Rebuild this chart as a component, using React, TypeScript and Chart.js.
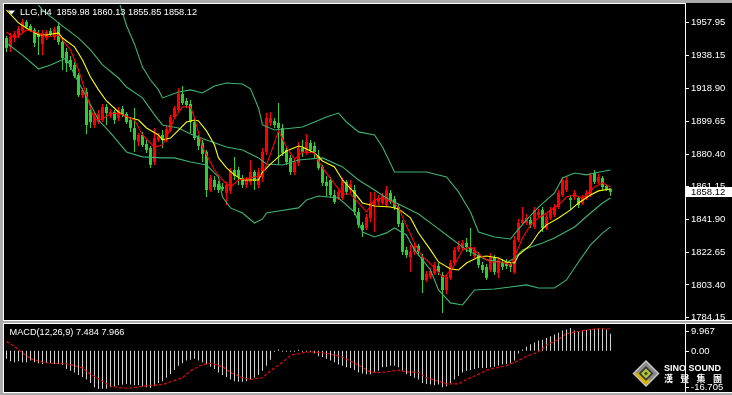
import React, { useEffect, useRef } from 'react';
import { Chart, registerables } from 'chart.js';

Chart.register(...registerables);

// ---------- data ----------
const symbolLabel = 'LLG,H4';
const ohlcLabel = '1859.98 1860.13 1855.85 1858.12';
const macdLabel = 'MACD(12,26,9) 7.484 7.966';
const lastPrice = 1858.12;

const priceTicks = [1784.15, 1803.4, 1822.65, 1841.9, 1861.15, 1880.4, 1899.65, 1918.9, 1938.15, 1957.95];
const macdTicks = [9.967, 0, -16.705];

const openP = [
  1948.6, 1943.4, 1949.2, 1950.4, 1952.8, 1958.1, 1955.7, 1953.4, 1951.6, 1945.1,
  1948.6, 1952.8, 1949.2, 1955.7, 1946.3, 1940.4, 1935.7, 1932.8, 1926.9, 1915.1,
  1916.9, 1906.3, 1897.5, 1899.2, 1900.4, 1908.1, 1902.8, 1905.1, 1901.6, 1906.9,
  1904.0, 1900.4, 1895.7, 1887.5, 1891.6, 1886.3, 1884.0, 1875.7, 1888.7, 1891.6,
  1888.7, 1894.5, 1902.2, 1906.3, 1915.7, 1911.6, 1909.8, 1899.2, 1890.4, 1886.9,
  1881.6, 1859.2, 1865.1, 1862.8, 1861.0, 1857.5, 1858.7, 1871.0, 1871.0, 1866.3,
  1862.2, 1864.0, 1869.8, 1862.2, 1866.9, 1881.6, 1898.7, 1899.8, 1898.7, 1895.7,
  1882.8, 1878.1, 1869.8, 1875.1, 1884.0, 1881.6, 1886.9, 1885.1, 1879.2, 1872.8,
  1864.0, 1865.1, 1856.3, 1854.5, 1854.5, 1864.0, 1859.2, 1859.2, 1846.3, 1838.7,
  1836.9, 1842.8, 1850.4, 1852.2, 1851.6, 1850.4, 1857.5, 1854.0, 1849.2, 1839.8,
  1824.0, 1819.8, 1822.8, 1826.3, 1819.8, 1806.3, 1808.1, 1810.4, 1814.5, 1809.2,
  1800.4, 1807.5, 1816.3, 1824.0, 1825.1, 1828.1, 1825.7, 1820.4, 1821.0, 1815.1,
  1814.0, 1812.2, 1819.8, 1810.4, 1816.9, 1816.3, 1815.7, 1811.0, 1829.8, 1839.8,
  1839.8, 1841.6, 1837.5, 1844.5, 1847.5, 1836.9, 1842.8, 1844.5, 1849.2, 1856.3,
  1859.2, 1854.5, 1855.1, 1854.5, 1851.6, 1854.5, 1856.3, 1869.2, 1864.0, 1866.3,
  1861.6, 1859.98,
];
const highP = [
  1949.8, 1951.6, 1952.8, 1955.7, 1959.8, 1959.2, 1956.9, 1954.5, 1953.4, 1953.4,
  1953.4, 1954.5, 1955.1, 1958.1, 1948.6, 1942.8, 1938.1, 1934.5, 1928.1, 1919.2,
  1919.2, 1909.2, 1905.1, 1906.3, 1909.8, 1909.8, 1906.9, 1906.3, 1908.1, 1908.7,
  1905.1, 1902.2, 1907.5, 1892.8, 1893.4, 1888.7, 1885.1, 1895.7, 1892.8, 1894.5,
  1896.9, 1903.4, 1908.7, 1919.2, 1920.4, 1913.4, 1912.2, 1901.6, 1891.6, 1888.7,
  1882.8, 1868.1, 1867.5, 1864.5, 1863.4, 1864.0, 1872.2, 1878.7, 1872.8, 1868.1,
  1866.9, 1876.9, 1871.0, 1872.2, 1884.0, 1904.5, 1905.1, 1901.6, 1910.4, 1898.1,
  1884.5, 1879.8, 1878.1, 1887.5, 1888.7, 1892.2, 1888.7, 1887.5, 1882.8, 1874.0,
  1867.5, 1866.9, 1859.2, 1859.2, 1866.3, 1865.1, 1865.1, 1862.2, 1848.7, 1840.4,
  1845.1, 1858.1, 1858.1, 1856.3, 1857.5, 1861.6, 1859.2, 1855.7, 1851.0, 1841.6,
  1825.7, 1826.9, 1828.1, 1827.5, 1821.6, 1811.6, 1813.4, 1816.9, 1816.3, 1811.0,
  1809.2, 1818.1, 1825.7, 1829.2, 1829.8, 1831.0, 1836.9, 1825.7, 1822.8, 1816.9,
  1815.7, 1822.2, 1821.0, 1819.2, 1818.7, 1818.7, 1816.9, 1832.2, 1842.2, 1849.2,
  1845.1, 1843.4, 1849.2, 1848.1, 1849.2, 1845.1, 1849.2, 1851.0, 1859.2, 1866.3,
  1866.9, 1856.3, 1859.2, 1855.7, 1856.3, 1859.2, 1869.2, 1871.0, 1868.7, 1867.5,
  1862.8, 1860.13,
];
const lowP = [
  1940.4, 1940.4, 1946.3, 1948.6, 1951.6, 1953.9, 1952.2, 1943.4, 1938.6, 1938.6,
  1947.5, 1949.8, 1947.5, 1944.5, 1929.8, 1928.6, 1929.8, 1925.1, 1913.9, 1913.4,
  1892.2, 1895.7, 1895.7, 1898.1, 1899.2, 1897.5, 1901.6, 1898.1, 1899.8, 1902.2,
  1898.1, 1893.4, 1881.6, 1885.1, 1884.5, 1881.0, 1872.2, 1874.0, 1887.5, 1884.0,
  1887.5, 1893.4, 1901.0, 1905.1, 1909.2, 1907.5, 1892.8, 1888.7, 1882.8, 1875.7,
  1855.1, 1858.1, 1859.2, 1857.5, 1858.7, 1850.4, 1856.9, 1865.1, 1862.2, 1860.4,
  1860.4, 1862.2, 1859.2, 1860.4, 1864.0, 1879.8, 1896.9, 1895.7, 1874.0, 1879.2,
  1874.0, 1868.1, 1868.1, 1873.4, 1878.7, 1879.8, 1881.0, 1878.1, 1871.0, 1861.6,
  1855.1, 1854.5, 1851.0, 1853.4, 1853.4, 1856.3, 1857.5, 1844.5, 1836.9, 1831.6,
  1835.7, 1840.4, 1834.5, 1850.4, 1850.4, 1849.2, 1851.0, 1847.5, 1837.5, 1821.0,
  1819.2, 1811.0, 1821.0, 1820.4, 1798.7, 1805.1, 1806.9, 1809.2, 1809.2, 1786.9,
  1798.1, 1806.3, 1815.1, 1822.8, 1824.0, 1822.8, 1820.4, 1819.2, 1813.4, 1810.4,
  1806.3, 1811.0, 1809.2, 1807.5, 1812.2, 1812.8, 1811.0, 1809.8, 1828.7, 1838.7,
  1838.7, 1836.9, 1836.3, 1843.4, 1834.5, 1835.7, 1841.6, 1843.4, 1848.1, 1855.1,
  1858.1, 1847.5, 1853.4, 1848.7, 1850.4, 1853.4, 1855.1, 1862.8, 1862.8, 1859.2,
  1858.7, 1855.85,
];
const closeP = [
  1942.8, 1949.2, 1951.0, 1953.9, 1958.1, 1955.1, 1953.4, 1945.7, 1949.2, 1951.6,
  1952.2, 1951.0, 1953.9, 1946.3, 1936.9, 1933.9, 1931.6, 1926.3, 1915.1, 1918.1,
  1897.5, 1899.2, 1902.2, 1904.0, 1908.1, 1904.5, 1905.1, 1900.4, 1906.3, 1903.4,
  1899.2, 1895.7, 1888.7, 1891.6, 1885.7, 1882.8, 1874.0, 1889.8, 1891.0, 1888.7,
  1895.1, 1902.2, 1907.5, 1915.7, 1910.4, 1909.2, 1899.2, 1889.8, 1885.1, 1880.4,
  1859.2, 1866.3, 1861.0, 1859.2, 1859.8, 1862.2, 1870.4, 1867.5, 1866.9, 1862.2,
  1865.1, 1869.8, 1864.5, 1869.8, 1881.6, 1901.6, 1901.6, 1897.5, 1895.7, 1881.0,
  1875.7, 1869.8, 1875.7, 1884.0, 1881.6, 1887.5, 1882.8, 1881.6, 1872.2, 1863.4,
  1861.6, 1856.3, 1852.2, 1858.1, 1865.1, 1858.1, 1862.8, 1846.3, 1838.7, 1835.7,
  1843.4, 1851.6, 1853.4, 1854.5, 1855.7, 1859.2, 1852.2, 1848.7, 1839.2, 1822.8,
  1821.0, 1822.8, 1826.3, 1822.8, 1806.3, 1809.8, 1811.6, 1815.1, 1811.0, 1800.4,
  1808.1, 1816.3, 1824.0, 1826.3, 1828.1, 1825.7, 1822.8, 1824.0, 1815.1, 1812.2,
  1807.5, 1819.8, 1811.0, 1818.1, 1814.0, 1814.5, 1814.0, 1829.8, 1839.8, 1841.6,
  1842.8, 1838.7, 1847.5, 1846.3, 1836.9, 1843.4, 1847.5, 1849.2, 1857.5, 1865.1,
  1865.1, 1853.4, 1857.5, 1850.4, 1854.5, 1857.5, 1868.1, 1864.0, 1866.9, 1861.0,
  1859.8, 1858.12,
];

// indicator lines: [bar index, value]
const maYellow = [
  [0, 1965.1], [3, 1957.5], [5, 1954.5], [8, 1950.4], [10, 1950.4], [13, 1951.6], [14, 1948.6],
  [17, 1943.4], [19, 1935.7], [21, 1925.7], [23, 1918.1], [25, 1911.6], [28, 1905.1], [30, 1902.2],
  [33, 1900.4], [35, 1895.7], [38, 1891.6], [39, 1888.7], [41, 1889.8], [43, 1894.5], [45, 1899.2],
  [47, 1900.4], [48, 1899.8], [50, 1894.0], [52, 1885.7], [53, 1878.1], [55, 1872.2], [57, 1868.1],
  [59, 1865.1], [63, 1865.1], [64, 1869.8], [66, 1874.5], [68, 1878.7], [70, 1882.2], [73, 1885.1],
  [74, 1884.5], [77, 1881.0], [79, 1876.3], [82, 1872.8], [84, 1865.1], [87, 1857.5], [89, 1851.6],
  [92, 1849.8], [96, 1849.2], [98, 1848.1], [101, 1842.8], [103, 1833.9], [106, 1824.0], [108, 1816.9],
  [111, 1812.8], [113, 1812.2], [115, 1816.3], [118, 1819.8], [120, 1820.4], [123, 1819.2], [125, 1816.9],
  [127, 1816.3], [128, 1821.0], [131, 1826.9], [133, 1833.9], [135, 1838.7], [138, 1842.8], [141, 1847.5],
  [143, 1851.6], [146, 1856.3], [148, 1858.7], [151, 1859.8],
];
const maRed = [
  [0, 1952.2], [2, 1948.6], [4, 1951.6], [5, 1953.4], [8, 1951.6], [10, 1949.2], [13, 1950.4],
  [14, 1947.5], [16, 1941.6], [18, 1929.8], [20, 1915.1], [22, 1900.4], [24, 1901.0], [26, 1904.0],
  [28, 1904.5], [32, 1900.4], [34, 1891.6], [37, 1884.5], [39, 1885.7], [40, 1890.4], [42, 1901.6],
  [44, 1908.1], [46, 1908.1], [47, 1901.6], [49, 1884.5], [52, 1871.0], [54, 1865.1], [56, 1861.0],
  [58, 1865.1], [61, 1866.3], [64, 1868.1], [66, 1880.4], [68, 1894.0], [70, 1884.5], [72, 1877.5],
  [74, 1881.6], [77, 1881.0], [79, 1872.2], [82, 1862.8], [84, 1856.9], [86, 1856.9], [88, 1851.6],
  [90, 1846.3], [92, 1853.4], [94, 1854.5], [96, 1852.8], [98, 1849.2], [99, 1843.4], [102, 1828.1],
  [104, 1819.8], [105, 1818.1], [107, 1813.4], [109, 1808.1], [110, 1809.2], [112, 1815.1], [114, 1824.0],
  [116, 1825.7], [119, 1819.8], [121, 1816.9], [124, 1816.9], [126, 1815.1], [127, 1819.8], [129, 1831.0],
  [131, 1838.7], [133, 1842.8], [135, 1845.7], [138, 1850.4], [140, 1855.1], [142, 1856.3], [144, 1854.5],
  [145, 1856.3], [147, 1861.0], [149, 1863.4], [150, 1862.2], [151, 1861.0],
];
const bandUpper = [
  [26, 1990.0], [28, 1971.0], [30, 1956.0], [32, 1945.0], [34, 1931.5], [36, 1923.9], [38, 1918.1],
  [39, 1913.4], [43, 1916.9], [46, 1918.1], [49, 1916.3], [52, 1920.4], [55, 1922.2], [59, 1921.6],
  [61, 1918.7], [63, 1907.5], [64, 1897.5], [67, 1894.5], [74, 1896.3], [77, 1899.2], [80, 1902.2],
  [83, 1904.5], [85, 1899.2], [88, 1893.4], [92, 1891.6], [94, 1884.5], [97, 1869.8], [100, 1869.8],
  [105, 1869.8], [110, 1866.9], [113, 1858.1], [116, 1846.3], [118, 1834.5], [122, 1831.6], [126, 1830.4],
  [127, 1833.4], [130, 1841.6], [133, 1849.2], [137, 1857.5], [139, 1866.3], [142, 1869.2], [145, 1868.1],
  [147, 1869.2], [151, 1871.0],
];
const bandMiddle = [
  [6, 1974.0], [9, 1965.1], [13, 1957.5], [18, 1948.6], [21, 1941.6], [24, 1932.8], [28, 1925.1],
  [30, 1919.8], [34, 1913.4], [37, 1903.4], [39, 1897.5], [43, 1895.7], [46, 1892.2], [50, 1888.7],
  [55, 1884.5], [59, 1882.8], [63, 1878.1], [65, 1874.5], [69, 1873.9], [73, 1876.9], [79, 1878.1],
  [84, 1872.8], [88, 1865.1], [92, 1859.2], [95, 1854.5], [99, 1849.8], [103, 1845.1], [107, 1838.1],
  [111, 1831.0], [115, 1824.0], [120, 1818.1], [125, 1816.3], [127, 1819.2], [129, 1824.0], [134, 1828.1],
  [137, 1831.0], [142, 1837.5], [146, 1845.7], [149, 1851.6], [151, 1854.5],
];
const bandLower = [
  [0, 1945.7], [4, 1938.6], [8, 1930.4], [11, 1932.8], [15, 1936.9], [17, 1926.9], [20, 1913.9],
  [23, 1900.4], [26, 1892.8], [30, 1881.6], [34, 1878.7], [39, 1878.1], [42, 1878.1], [46, 1875.7],
  [50, 1873.9], [53, 1866.9], [54, 1855.1], [56, 1848.7], [59, 1845.7], [62, 1839.8], [64, 1842.2],
  [65, 1845.7], [68, 1846.9], [73, 1848.7], [75, 1853.4], [78, 1855.7], [83, 1854.5], [87, 1846.3],
  [89, 1834.5], [92, 1831.6], [95, 1834.0], [97, 1836.9], [100, 1832.8], [102, 1824.0], [106, 1812.2],
  [108, 1800.4], [111, 1792.8], [114, 1791.6], [117, 1800.4], [122, 1801.0], [126, 1802.2], [130, 1803.4],
  [133, 1801.6], [137, 1801.6], [140, 1806.3], [143, 1816.9], [146, 1826.9], [149, 1833.9], [151, 1837.5],
];

const macdMain = [
  -3.47, -4.52, -4.98, -4.52, -4.98, -4.98, -4.22, -4.98, -5.43, -5.73,
  -5.43, -5.43, -5.73, -5.73, -6.18, -7.99, -8.75, -9.5, -10.56, -11.46,
  -12.52, -14.03, -15.99, -16.705, -16.59, -16.59, -15.99, -15.54, -15.08, -14.78,
  -14.48, -14.78, -15.08, -15.08, -15.54, -15.99, -16.29, -15.54, -14.03, -13.27,
  -11.76, -10.26, -8.45, -6.49, -5.43, -4.22, -3.92, -3.47, -4.22, -4.98,
  -5.73, -6.94, -7.99, -9.5, -10.56, -11.46, -12.52, -13.27, -13.57, -13.57,
  -13.27, -12.52, -11.76, -10.56, -8.75, -6.49, -3.92, -0.45, 0.6, -0.1,
  -0.45, -0.45, -0.1, 0.3, -0.15, -0.1, -0.45, -1.21, -2.41, -2.71,
  -3.47, -4.22, -4.98, -6.03, -6.49, -7.24, -7.54, -8.45, -9.5, -9.95,
  -10.26, -10.26, -9.5, -8.75, -7.24, -6.94, -6.49, -6.49, -7.24, -8.75,
  -10.26, -11.01, -11.76, -12.52, -14.03, -14.48, -14.78, -15.08, -14.78, -15.99,
  -15.54, -14.03, -12.52, -11.01, -9.5, -8.75, -8.45, -7.99, -7.54, -7.54,
  -7.54, -7.24, -6.94, -6.49, -6.03, -5.73, -5.43, -4.22, -1.21, 0.6,
  1.81, 2.87, 3.62, 4.52, 4.83, 5.58, 6.33, 7.09, 7.84, 8.9,
  9.35, 9.967, 8.9, 8.6, 8.9, 9.05, 9.35, 9.65, 9.8, 9.8,
  9.35, 7.484,
];
const macdSignal = [
  [0, 4.07], [2, 1.81], [4, -0.9], [6, -3.47], [9, -4.98], [11, -5.43], [14, -5.43], [16, -6.03],
  [19, -7.54], [21, -10.26], [24, -13.27], [26, -15.54], [29, -16.29], [31, -16.29], [34, -15.54],
  [36, -15.08], [39, -14.78], [41, -13.57], [44, -11.76], [46, -8.75], [49, -6.03], [51, -5.43],
  [54, -6.94], [56, -9.5], [59, -11.76], [61, -12.52], [64, -11.76], [66, -8.75], [69, -4.98],
  [71, -1.96], [74, -0.9], [76, -0.45], [79, -0.9], [81, -1.51], [84, -2.71], [86, -4.52], [89, -7.2],
  [91, -9.3], [93, -9.5], [95, -9.2], [98, -8.45], [100, -9.2], [103, -9.5], [105, -11.76], [108, -13.27],
  [110, -14.48], [113, -14.48], [115, -12.52], [118, -10.26], [120, -8.45], [123, -7.24], [125, -6.49],
  [128, -4.22], [130, -2.41], [133, -0.45], [135, 2.56], [138, 4.98], [140, 7.54], [143, 8.45],
  [145, 9.05], [148, 9.65], [151, 9.6],
];

// ---------- view / style ----------
const X_MIN = -0.625;
const X_MAX = 169.625;
const P_MIN = 1782.75;
const P_MAX = 1968.05;
const M_MIN = -16.705;
const M_MAX = 9.967;

const GRAY = '#ababab';
const UP = '#ff0000';
const DOWN = '#32cd32';
const BAND = '#3cb371';
const FONT = '"Liberation Sans", Arial, sans-serif';

const pts = (arr: number[][]) => arr.map(([x, y]) => ({ x, y }));

const mainFrame = {
  id: 'mainFrame',
  beforeDraw(chart: any) {
    const ctx = chart.ctx;
    ctx.save();
    ctx.fillStyle = GRAY;
    ctx.fillRect(0, 0, 732, 321);
    ctx.fillStyle = '#000';
    ctx.fillRect(3, 3, 729, 318);
    ctx.fillStyle = '#fff';
    ctx.fillRect(3, 3, 683, 1);
    ctx.fillRect(3, 3, 1, 318);
    ctx.fillRect(3, 320, 729, 1);
    ctx.fillRect(685, 3, 1, 318);
    ctx.restore();
  },
  afterDraw(chart: any) {
    const ctx = chart.ctx;
    const ys = chart.scales.y;
    ctx.save();
    ctx.fillStyle = '#fff';
    ctx.beginPath();
    ctx.moveTo(8, 10.5);
    ctx.lineTo(15, 10.5);
    ctx.lineTo(11.5, 14.5);
    ctx.closePath();
    ctx.fill();
    ctx.font = `9.2px ${FONT}`;
    ctx.textBaseline = 'middle';
    ctx.textAlign = 'left';
    ctx.fillText(symbolLabel, 20, 12.5);
    ctx.fillText(ohlcLabel, 56.5, 12.5);
    const py = Math.round(ys.getPixelForValue(lastPrice));
    ctx.fillStyle = '#fff';
    ctx.fillRect(686, py - 5, 46, 10);
    ctx.fillStyle = '#000';
    ctx.font = `9.5px ${FONT}`;
    ctx.fillText(lastPrice.toFixed(2), 691, py + 0.5);
    ctx.restore();
  },
};

const macdFrame = {
  id: 'macdFrame',
  beforeDraw(chart: any) {
    const ctx = chart.ctx;
    ctx.save();
    ctx.fillStyle = GRAY;
    ctx.fillRect(0, 0, 732, 74);
    ctx.fillStyle = '#000';
    ctx.fillRect(3, 2, 729, 70);
    ctx.fillStyle = '#fff';
    ctx.fillRect(3, 2, 729, 1);
    ctx.fillRect(3, 71, 729, 1);
    ctx.fillRect(3, 2, 1, 70);
    ctx.fillRect(685, 2, 1, 70);
    ctx.restore();
  },
  afterDraw(chart: any) {
    const ctx = chart.ctx;
    const ys = chart.scales.y;
    const area = chart.chartArea;
    ctx.save();
    ctx.font = `9.2px ${FONT}`;
    ctx.textBaseline = 'middle';
    ctx.textAlign = 'left';
    ctx.fillStyle = '#fff';
    ctx.fillText(macdLabel, 9.5, 11.5);
    ctx.font = `9.5px ${FONT}`;
    macdTicks.forEach((v) => {
      const p = ys.getPixelForValue(v);
      const ly = Math.min(Math.max(p, area.top + 3), area.bottom - 2);
      ctx.fillRect(686, Math.round(ly), 3, 1);
      ctx.fillText(v === 0 ? '0.00' : String(v), 691, ly + 0.5);
    });
    // logo
    const cx = 646, cy = 52.5, r = 13.5;
    const diamond = (rr: number, color: string) => {
      ctx.fillStyle = color;
      ctx.beginPath();
      ctx.moveTo(cx, cy - rr);
      ctx.lineTo(cx + rr, cy);
      ctx.lineTo(cx, cy + rr);
      ctx.lineTo(cx - rr, cy);
      ctx.closePath();
      ctx.fill();
    };
    diamond(r, '#c9c9c9');
    diamond(r - 2, '#8a8a8a');
    ctx.fillStyle = '#d9b300';
    ctx.beginPath();
    ctx.moveTo(cx - r + 2, cy);
    ctx.lineTo(cx, cy + r - 2);
    ctx.lineTo(cx + 4, cy + r - 6);
    ctx.lineTo(cx - 4, cy - 2);
    ctx.closePath();
    ctx.fill();
    diamond(7.5, '#3a3a3a');
    diamond(5, '#b5c83a');
    diamond(2, '#3f4a10');
    ctx.fillStyle = '#fff';
    ctx.font = `bold 9px ${FONT}`;
    ctx.fillText('SINO SOUND', 664, 47.5);
    ctx.font = 'bold 9px "Noto Sans CJK TC", sans-serif';
    ['漢', '聲', '集', '團'].forEach((ch, k) => ctx.fillText(ch, 664 + k * 16.3, 57.5));
    ctx.restore();
  },
};

export default function App() {
  const mainRef = useRef<HTMLCanvasElement>(null);
  const macdRef = useRef<HTMLCanvasElement>(null);

  useEffect(() => {
    document.body.style.margin = '0';
    const idx = openP.map((_, i) => i);
    const candleColors = idx.map((i) => (closeP[i] >= openP[i] ? UP : DOWN));

    const lineDs = (data: number[][], color: string, order: number, extra: any = {}) => ({
      type: 'line',
      data: pts(data),
      borderColor: color,
      borderWidth: 1.1,
      pointRadius: 0,
      tension: 0,
      order,
      ...extra,
    });

    const main = new Chart(mainRef.current as HTMLCanvasElement, {
      type: 'bar',
      data: {
        datasets: [
          lineDs(maRed, '#ff0000', 0),
          lineDs(maYellow, '#ffff00', 0),
          lineDs(bandUpper, BAND, 1),
          lineDs(bandMiddle, BAND, 1),
          lineDs(bandLower, BAND, 1),
          {
            type: 'bar',
            data: idx.map((i) => ({ x: i, y: [openP[i], closeP[i]] })),
            backgroundColor: candleColors,
            barThickness: 3,
            grouped: false,
            inflateAmount: 0,
            minBarLength: 1,
            borderWidth: 0,
            order: 2,
          },
          {
            type: 'bar',
            data: idx.map((i) => ({ x: i, y: [lowP[i], highP[i]] })),
            backgroundColor: candleColors,
            barThickness: 1,
            grouped: false,
            inflateAmount: 0,
            borderWidth: 0,
            order: 3,
          },
        ] as any,
      },
      options: {
        responsive: false,
        animation: false,
        devicePixelRatio: 1,
        events: [],
        layout: { padding: { left: 4, top: 5, right: 0, bottom: 1 } },
        plugins: { legend: { display: false }, tooltip: { enabled: false } },
        scales: {
          x: { type: 'linear', min: X_MIN, max: X_MAX, offset: false, display: false },
          y: {
            type: 'linear',
            position: 'right',
            min: P_MIN,
            max: P_MAX,
            beginAtZero: false,
            afterBuildTicks: (s: any) => {
              s.ticks = priceTicks.map((v) => ({ value: v }));
            },
            afterFit: (s: any) => {
              s.width = 47;
              s.paddingTop = 0;
              s.paddingBottom = 0;
            },
            grid: { drawOnChartArea: false, drawTicks: true, tickLength: 4, color: '#ffffff', tickColor: '#ffffff' },
            border: { display: false },
            ticks: {
              color: '#ffffff',
              font: { family: FONT, size: 9.5 },
              padding: 2,
              autoSkip: false,
              callback: (v: any) => Number(v).toFixed(2),
            },
          },
        },
      } as any,
      plugins: [mainFrame],
    });

    const macd = new Chart(macdRef.current as HTMLCanvasElement, {
      type: 'bar',
      data: {
        datasets: [
          lineDs(macdSignal, '#ff0000', 0, { borderDash: [3, 2] }),
          {
            type: 'bar',
            data: macdMain.map((v, i) => ({ x: i, y: v })),
            backgroundColor: '#d0d0d0',
            barThickness: 1,
            grouped: false,
            inflateAmount: 0,
            minBarLength: 1,
            borderWidth: 0,
            order: 1,
          },
        ] as any,
      },
      options: {
        responsive: false,
        animation: false,
        devicePixelRatio: 1,
        events: [],
        layout: { padding: { left: 4, top: 7, right: 47, bottom: 6 } },
        plugins: { legend: { display: false }, tooltip: { enabled: false } },
        scales: {
          x: { type: 'linear', min: X_MIN, max: X_MAX, offset: false, display: false },
          y: { type: 'linear', min: M_MIN, max: M_MAX, beginAtZero: false, display: false },
        },
      } as any,
      plugins: [macdFrame],
    });

    return () => {
      main.destroy();
      macd.destroy();
    };
  }, []);

  return (
    <div style={{ position: 'relative', width: 732, height: 395, background: GRAY, overflow: 'hidden' }}>
      <canvas
        ref={mainRef}
        width={732}
        height={321}
        style={{ position: 'absolute', left: 0, top: 0, width: 732, height: 321, display: 'block' }}
      />
      <canvas
        ref={macdRef}
        width={732}
        height={74}
        style={{ position: 'absolute', left: 0, top: 321, width: 732, height: 74, display: 'block' }}
      />
    </div>
  );
}
